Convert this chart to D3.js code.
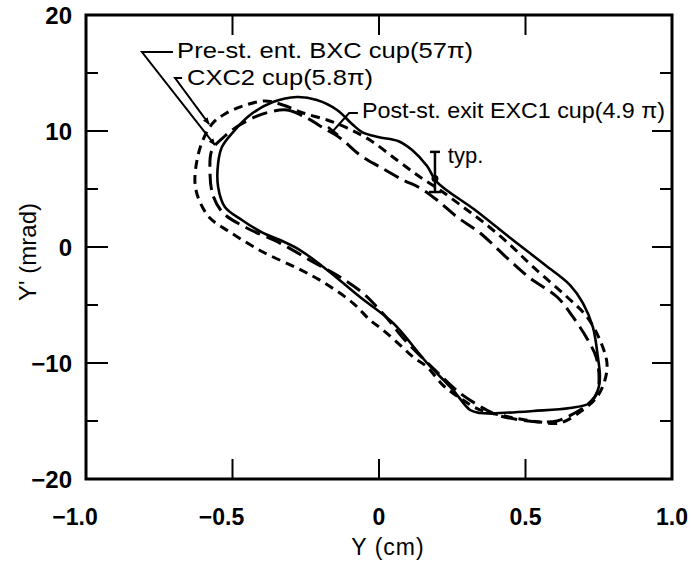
<!DOCTYPE html>
<html>
<head>
<meta charset="utf-8">
<script src="https://cdn.jsdelivr.net/npm/d3@7/dist/d3.min.js"></script>
<style>
body { margin: 0; background: #fff; }
svg { display: block; }
</style>
</head>
<body>
<svg class="chart" width="693" height="562"></svg>
<script>
// axis ticks
var xTicks = [-1.0, -0.5, 0, 0.5, 1.0];
var xTickLabels = ["\u22121.0", "\u22120.5", "0", "0.5", "1.0"];
var yTicks = [-20, -10, 0, 10, 20];
var yTickLabels = ["\u221220", "\u221210", "0", "10", "20"];
var yMinor = [-15, -5, 5, 15];

// Pre-st. ent. BXC cup (solid), Y in cm, Y' in mrad
var bxcY  = [-0.280, -0.212, -0.143, -0.092, -0.058, -0.003, 0.065, 0.113, 0.164, 0.198, 0.328, 0.457, 0.567, 0.652, 0.696, 0.730, 0.747, 0.754, 0.747, 0.720, 0.652, 0.526, 0.413, 0.345, 0.311, 0.253, 0.164, 0.048, -0.065, -0.177, -0.270, -0.338, -0.396, -0.468, -0.526, -0.549, -0.549, -0.536, -0.498, -0.440, -0.362];
var bxcYp = [12.93, 12.67, 11.81, 10.60, 9.91, 9.48, 9.14, 8.36, 6.98, 5.60, 3.19, 0.60, -1.55, -3.28, -4.83, -6.90, -9.48, -11.21, -12.33, -13.45, -13.88, -14.14, -14.31, -14.31, -14.05, -12.33, -10.00, -6.55, -4.31, -1.98, -0.26, 0.60, 1.21, 2.33, 3.45, 5.17, 7.24, 8.62, 9.91, 11.38, 12.50];

// CXC2 cup (short dashes)
var cxcY  = [-0.389, -0.328, -0.259, -0.177, -0.109, -0.031, 0.061, 0.140, 0.208, 0.287, 0.355, 0.437, 0.526, 0.642, 0.710, 0.754, 0.778, 0.771, 0.744, 0.696, 0.618, 0.549, 0.481, 0.413, 0.345, 0.276, 0.218, 0.164, 0.116, 0.072, 0.014, -0.031, -0.089, -0.191, -0.280, -0.396, -0.509, -0.577, -0.614, -0.628, -0.621, -0.601, -0.567, -0.526, -0.464];
var cxcYp = [12.59, 12.24, 11.55, 10.95, 10.26, 9.22, 7.50, 6.03, 4.91, 3.45, 2.16, 0.43, -1.72, -4.31, -6.03, -8.02, -10.00, -11.47, -12.93, -14.05, -15.17, -15.09, -14.83, -14.48, -14.05, -13.02, -11.90, -10.34, -9.48, -8.45, -7.16, -6.29, -4.83, -3.02, -1.81, -0.43, 1.29, 2.50, 4.05, 5.52, 7.50, 9.22, 10.69, 11.47, 12.16];

// Post-st. exit EXC1 cup (long dashes)
var excY  = [-0.372, -0.314, -0.246, -0.195, -0.133, -0.065, 0.003, 0.082, 0.140, 0.198, 0.266, 0.345, 0.430, 0.515, 0.608, 0.662, 0.713, 0.741, 0.751, 0.744, 0.710, 0.662, 0.608, 0.549, 0.481, 0.403, 0.355, 0.276, 0.184, 0.082, 0.027, -0.020, -0.055, -0.133, -0.225, -0.338, -0.451, -0.532, -0.567, -0.577, -0.570, -0.526, -0.481, -0.423];
var excYp = [11.64, 11.81, 11.12, 10.34, 9.40, 7.93, 6.90, 5.78, 5.09, 4.05, 2.59, 1.21, -0.78, -2.67, -4.31, -6.03, -8.02, -9.48, -11.21, -12.59, -13.62, -14.40, -15.00, -15.09, -14.91, -14.48, -13.88, -12.59, -10.43, -7.84, -6.12, -4.83, -3.97, -2.59, -1.29, 0.34, 1.64, 2.93, 4.48, 6.64, 8.36, 9.57, 10.43, 11.21];

// typical error bar
var typY = 0.191, typLo = 4.74, typHi = 8.2, typMid = 5.9;

var svg = d3.select('.chart');
var font = "'Liberation Sans', Arial, sans-serif";

var x = d3.scaleLinear().domain([-1, 1]).range([86, 672]);
var y = d3.scaleLinear().domain([-20, 20]).range([479, 15]);

// frame
svg.append('rect')
	.attr('x', x(-1)).attr('y', y(20))
	.attr('width', x(1) - x(-1)).attr('height', y(-20) - y(20))
	.style('fill', 'none').style('stroke', '#000').style('stroke-width', 3);

var ticks = svg.append('g').style('stroke', '#000').style('stroke-width', 2);

// bottom and top ticks
[-0.5, 0, 0.5].forEach(function(v){
	ticks.append('line').attr('x1', x(v)).attr('x2', x(v)).attr('y1', y(-20)).attr('y2', y(-20) - 20);
	ticks.append('line').attr('x1', x(v)).attr('x2', x(v)).attr('y1', y(20)).attr('y2', y(20) + 20);
});
// left and right ticks
[-10, 0, 10].forEach(function(v){
	ticks.append('line').attr('x1', x(-1)).attr('x2', x(-1) + 22).attr('y1', y(v)).attr('y2', y(v));
	ticks.append('line').attr('x1', x(1)).attr('x2', x(1) - 20).attr('y1', y(v)).attr('y2', y(v));
});
yMinor.forEach(function(v){
	ticks.append('line').attr('x1', x(-1)).attr('x2', x(-1) + 12).attr('y1', y(v)).attr('y2', y(v));
	ticks.append('line').attr('x1', x(1)).attr('x2', x(1) - 12).attr('y1', y(v)).attr('y2', y(v));
});

// tick labels
svg.append('g').selectAll('text').data(xTicks).enter().append('text')
	.attr('x', function(d){ return x(d) + (d < 0 ? -11 : 0); })
	.attr('y', 525)
	.attr('text-anchor', 'middle')
	.style('font-family', font).style('font-size', '23px').style('font-weight', 'bold')
	.text(function(d, i){ return xTickLabels[i]; });

svg.append('g').selectAll('text').data(yTicks).enter().append('text')
	.attr('x', x(-1) - 14)
	.attr('y', function(d){ return y(d) + 9; })
	.attr('text-anchor', 'end')
	.style('font-family', font).style('font-size', '24px').style('font-weight', 'bold')
	.text(function(d, i){ return yTickLabels[i]; });

// axis titles
svg.append('text')
	.attr('x', 388).attr('y', 555)
	.attr('text-anchor', 'middle')
	.style('font-family', font).style('font-size', '23px')
	.style('letter-spacing', '1px')
	.text('Y (cm)');

svg.append('text')
	.attr('transform', 'translate(36,252) rotate(-90)')
	.attr('text-anchor', 'middle')
	.style('font-family', font).style('font-size', '24px')
	.text("Y' (mrad)");

// curves
var line = d3.line()
	.x(function(d){ return x(d[0]); })
	.y(function(d){ return y(d[1]); })
	.curve(d3.curveCatmullRomClosed.alpha(0.5));

function pts(a, b){ return a.map(function(v, i){ return [v, b[i]]; }); }

svg.append('path').attr('d', line(pts(bxcY, bxcYp)))
	.style('fill', 'none').style('stroke', '#000').style('stroke-width', 2.6);
svg.append('path').attr('d', line(pts(cxcY, cxcYp)))
	.style('fill', 'none').style('stroke', '#000').style('stroke-width', 3)
	.style('stroke-dasharray', '9,6');
svg.append('path').attr('d', line(pts(excY, excYp)))
	.style('fill', 'none').style('stroke', '#000').style('stroke-width', 3)
	.style('stroke-dasharray', '16,7');

// error bar "typ."
var eb = svg.append('g').style('stroke', '#000').style('stroke-width', 2.5);
eb.append('line').attr('x1', x(typY)).attr('x2', x(typY)).attr('y1', y(typHi)).attr('y2', y(typLo));
eb.append('line').attr('x1', x(typY) - 5).attr('x2', x(typY) + 5).attr('y1', y(typHi)).attr('y2', y(typHi));
eb.append('line').attr('x1', x(typY) - 6).attr('x2', x(typY) + 6).attr('y1', y(typLo)).attr('y2', y(typLo));
svg.append('circle').attr('cx', x(typY)).attr('cy', y(typMid)).attr('r', 3.5).style('fill', '#000');
svg.append('text').attr('x', x(0.235)).attr('y', y(7.24))
	.style('font-family', font).style('font-size', '22px')
	.text('typ.');

// leaders
svg.append('defs').append('marker')
	.attr('id', 'arr').attr('viewBox', '0 0 10 10').attr('refX', 9).attr('refY', 5)
	.attr('markerWidth', 7).attr('markerHeight', 7).attr('orient', 'auto')
	.attr('markerUnits', 'userSpaceOnUse')
	.append('path').attr('d', 'M0,1L10,5L0,9Z').style('fill', '#000');

var leader = d3.line().x(function(d){ return x(d[0]); }).y(function(d){ return y(d[1]); });

svg.append('path').attr('d', leader([[-0.703, 16.81], [-0.809, 16.81], [-0.560, 8.79]]))
	.style('fill', 'none').style('stroke', '#000').style('stroke-width', 2)
	.attr('marker-end', 'url(#arr)');
svg.append('path').attr('d', leader([[-0.672, 14.57], [-0.696, 14.57], [-0.580, 10.60]]))
	.style('fill', 'none').style('stroke', '#000').style('stroke-width', 2)
	.attr('marker-end', 'url(#arr)');
svg.append('path').attr('d', leader([[-0.072, 11.55], [-0.102, 11.55], [-0.157, 10.0]]))
	.style('fill', 'none').style('stroke', '#000').style('stroke-width', 2);
svg.append('line')
	.attr('x1', x(-0.157) - 5).attr('y1', y(10.0) - 4)
	.attr('x2', x(-0.157) + 5).attr('y2', y(10.0) + 4)
	.style('stroke', '#000').style('stroke-width', 2.5);

// annotation texts
function note(t, px, py, len){
	svg.append('text').attr('x', x(px)).attr('y', y(py))
		.attr('textLength', len).attr('lengthAdjust', 'spacingAndGlyphs')
		.style('font-family', font).style('font-size', '22px')
		.text(t);
}
note('Pre-st. ent. BXC cup(57\u03c0)', -0.689, 16.29, 296);
note('CXC2 cup(5.8\u03c0)', -0.655, 13.97, 186);
note('Post-st. exit EXC1 cup(4.9 \u03c0)', -0.058, 11.12, 303);
</script>
</body>
</html>
